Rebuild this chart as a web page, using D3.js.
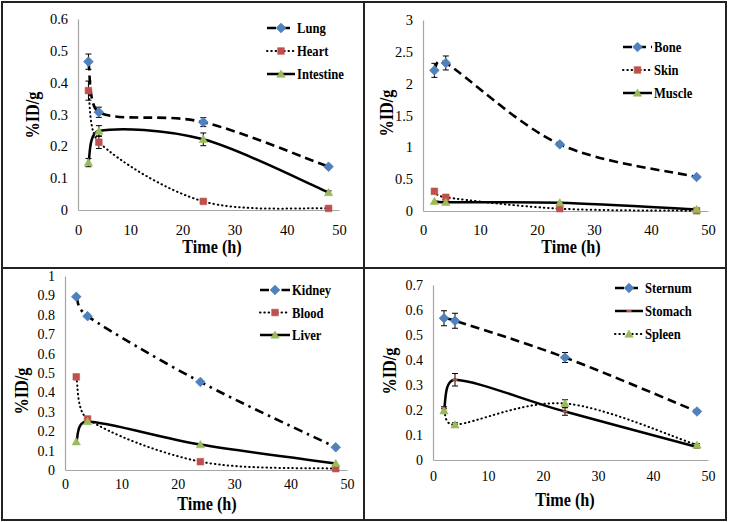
<!DOCTYPE html>
<html><head><meta charset="utf-8">
<script src="https://cdn.jsdelivr.net/npm/d3@7"></script>
<style>body{margin:0;background:#fff}svg{display:block}svg text{font-family:'Liberation Serif','Times New Roman',serif}</style>
</head><body>
<svg id="chart" width="730" height="522"></svg>
<script>
// ---------- DATA ----------
const times = [2, 4, 24, 48];
const xTickValues = [0, 10, 20, 30, 40, 50];

// Panel A
const lung = [0.466, 0.307, 0.276, 0.136];
const lungErr = [0.024, 0.016, 0.014, 0.005];
const heart = [0.375, 0.213, 0.027, 0.005];
const heartErr = [0.03, 0.02, 0.004, 0.002];
const intestine = [0.149, 0.248, 0.222, 0.055];
const intestineErr = [0.013, 0.017, 0.02, 0.005];
const yTicksA = [0, 0.1, 0.2, 0.3, 0.4, 0.5, 0.6];

// Panel B
const bone = [2.209, 2.325, 1.047, 0.534];
const boneErr = [0.11, 0.11, 0.03, 0.02];
const skin = [0.309, 0.215, 0.037, 0.004];
const skinErr = [0, 0, 0, 0];
const muscle = [0.152, 0.136, 0.131, 0.026];
const muscleErr = [0, 0, 0, 0];
const yTicksB = [0, 0.5, 1, 1.5, 2, 2.5, 3];

// Panel C
const kidney = [0.893, 0.793, 0.454, 0.117];
const kidneyErr = [0, 0, 0, 0];
const blood = [0.48, 0.263, 0.043, 0.007];
const bloodErr = [0, 0, 0, 0];
const liver = [0.146, 0.25, 0.131, 0.034];
const liverErr = [0, 0, 0, 0];
const yTicksC = [0, 0.1, 0.2, 0.3, 0.4, 0.5, 0.6, 0.7, 0.8, 0.9, 1];

// Panel D
const sternum = [0.567, 0.557, 0.41, 0.194];
const sternumErr = [0.03, 0.03, 0.02, 0.008];
const stomach = [0.203, 0.321, 0.194, 0.052];
const stomachErr = [0.01, 0.025, 0.015, 0.004];
const spleen = [0.197, 0.141, 0.226, 0.06];
const spleenErr = [0.01, 0.008, 0.015, 0.005];
const yTicksD = [0, 0.1, 0.2, 0.3, 0.4, 0.5, 0.6, 0.7];

const xTitle = "Time (h)";
const yTitle = "%ID/g";

// ---------- STYLE ----------
const BLUE = "#4F81BD", RED = "#C0504D", GREEN = "#9BBB59";
const FONT = "'Liberation Serif','Times New Roman',serif";
const dashStyles = {
  dash: {w: 2.6, d: "9,5", cap: "butt"},
  dot: {w: 2, d: "0.5,3.8", cap: "round"},
  solid: {w: 2.5, d: null, cap: "butt"},
  dashdot: {w: 2.6, d: "9,5,2.5,5", cap: "butt"}
};

const panels = [
  {x0: 78, x1: 339, yTop: 19, yBot: 210, yMax: 0.6, yTicks: yTicksA, xPad: 15, tickFont: 14.5,
   yTitlePos: [33, 115], xTitlePos: [212, 253], legend: {x0: 267, x1: 295, y0: 28, step: 23},
   series: [
     {name: "Lung", v: lung, e: lungErr, line: "dash", marker: "diamond", color: BLUE},
     {name: "Heart", v: heart, e: heartErr, line: "dot", marker: "square", color: RED},
     {name: "Intestine", v: intestine, e: intestineErr, line: "solid", marker: "triangle", color: GREEN}
   ]},
  {x0: 423, x1: 708, yTop: 20, yBot: 211, yMax: 3, yTicks: yTicksB, xPad: 14, tickFont: 14.5,
   yTitlePos: [387, 113], xTitlePos: [571, 253], legend: {x0: 623, x1: 652, y0: 47, step: 23},
   series: [
     {name: "Bone", v: bone, e: boneErr, line: "dash", marker: "diamond", color: BLUE},
     {name: "Skin", v: skin, e: skinErr, line: "dot", marker: "square", color: RED},
     {name: "Muscle", v: muscle, e: muscleErr, line: "solid", marker: "triangle", color: GREEN}
   ]},
  {x0: 65, x1: 347, yTop: 276, yBot: 470, yMax: 1, yTicks: yTicksC, xPad: 9, tickFont: 14,
   yTitlePos: [22, 391], xTitlePos: [207, 510], legend: {x0: 260, x1: 290, y0: 290, step: 22.5},
   series: [
     {name: "Kidney", v: kidney, e: kidneyErr, line: "dashdot", marker: "diamond", color: BLUE},
     {name: "Blood", v: blood, e: bloodErr, line: "dot", marker: "square", color: RED},
     {name: "Liver", v: liver, e: liverErr, line: "solid", marker: "triangle", color: GREEN}
   ]},
  {x0: 433, x1: 708, yTop: 285, yBot: 460, yMax: 0.7, yTicks: yTicksD, xPad: 11, tickFont: 14,
   yTitlePos: [390, 371], xTitlePos: [565, 506], legend: {x0: 615, x1: 643, y0: 288, step: 23},
   series: [
     {name: "Sternum", v: sternum, e: sternumErr, line: "dash", marker: "diamond", color: BLUE},
     {name: "Stomach", v: stomach, e: stomachErr, line: "solid", marker: "dash", color: RED},
     {name: "Spleen", v: spleen, e: spleenErr, line: "dot", marker: "triangle", color: GREEN}
   ]}
];

const svg = d3.select("#chart");

// Excel-like smoothed line: Catmull-Rom (1/6) tangents, clamped so control points stay inside each segment's x-range
function smoothPath(pts) {
  const p = d3.path();
  const n = pts.length;
  p.moveTo(pts[0][0], pts[0][1]);
  const tan = i => {
    const a = pts[Math.max(0, i - 1)], b = pts[Math.min(n - 1, i + 1)];
    return [(b[0] - a[0]) / 6, (b[1] - a[1]) / 6];
  };
  for (let i = 0; i < n - 1; i++) {
    const P1 = pts[i], P2 = pts[i + 1], dx = P2[0] - P1[0];
    let t1 = tan(i), t2 = tan(i + 1);
    const s1 = Math.abs(t1[0]) > dx ? dx / Math.abs(t1[0]) : 1;
    const s2 = Math.abs(t2[0]) > dx ? dx / Math.abs(t2[0]) : 1;
    p.bezierCurveTo(P1[0] + t1[0] * s1, P1[1] + t1[1] * s1,
                    P2[0] - t2[0] * s2, P2[1] - t2[1] * s2, P2[0], P2[1]);
  }
  return p.toString();
}

function styleLine(sel, kind) {
  const s = dashStyles[kind];
  sel.attr("fill", "none").attr("stroke", "#000").attr("stroke-width", s.w)
     .attr("stroke-linecap", s.cap);
  if (s.d) sel.attr("stroke-dasharray", s.d);
}

function drawMarker(g, kind, color, x, y) {
  if (kind === "diamond") {
    g.append("path").attr("d", d3.symbol(d3.symbolSquare, 46)())
      .attr("transform", `translate(${x},${y}) rotate(45)`)
      .attr("fill", color).attr("stroke", color).attr("stroke-width", 0.8);
  } else if (kind === "square") {
    g.append("path").attr("d", d3.symbol(d3.symbolSquare, 44)())
      .attr("transform", `translate(${x},${y})`)
      .attr("fill", color).attr("stroke", color).attr("stroke-width", 0.6);
  } else if (kind === "triangle") {
    g.append("path").attr("d", d3.symbol(d3.symbolTriangle, 30)())
      .attr("transform", `translate(${x},${y + 0.8})`)
      .attr("fill", color).attr("stroke", color).attr("stroke-width", 0.6);
  } else if (kind === "dash") {
    g.append("line").attr("x1", x - 2.5).attr("x2", x + 2.5).attr("y1", y).attr("y2", y)
      .attr("stroke", color).attr("stroke-width", 2);
  }
}

function boldText(g, x, y, str, size, rot) {
  g.append("text")
    .attr("transform", `translate(${x},${y}) rotate(${rot || 0}) scale(0.9,1)`)
    .attr("font-family", FONT).attr("font-weight", "bold").attr("font-size", size)
    .attr("fill", "#000").text(str);
}

panels.forEach(p => {
  const g = svg.append("g");
  const x = d3.scaleLinear().domain([0, 50]).range([p.x0, p.x1]);
  const y = d3.scaleLinear().domain([0, p.yMax]).range([p.yBot, p.yTop]);

  const fmt = d => String(+d.toFixed(2));
  const yAx = g.append("g").attr("transform", `translate(${p.x0},0)`)
    .call(d3.axisLeft(y).tickValues(p.yTicks).tickFormat(fmt).tickSize(0).tickPadding(10));
  const xAx = g.append("g").attr("transform", `translate(0,${p.yBot})`)
    .call(d3.axisBottom(x).tickValues(xTickValues).tickFormat(fmt).tickSize(0).tickPadding(p.xPad));
  [yAx, xAx].forEach(a => {
    a.attr("font-family", FONT).attr("font-size", p.tickFont);
    a.select(".domain").attr("stroke", "#a6a6a6").attr("stroke-width", 1.2);
    a.selectAll("text").attr("font-family", FONT).attr("font-size", p.tickFont).attr("fill", "#000");
  });

  // lines
  p.series.forEach(s => {
    const pts = times.map((t, i) => [x(t), y(s.v[i])]);
    const path = g.append("path").attr("d", smoothPath(pts));
    styleLine(path, s.line);
  });
  // error bars
  p.series.forEach(s => {
    times.forEach((t, i) => {
      if (!s.e[i]) return;
      const cx = x(t), ya = y(s.v[i] + s.e[i]), yb = y(s.v[i] - s.e[i]);
      g.append("line").attr("x1", cx).attr("x2", cx).attr("y1", ya).attr("y2", yb)
        .attr("stroke", "#000").attr("stroke-width", 1);
      [ya, yb].forEach(yy => g.append("line").attr("x1", cx - 3).attr("x2", cx + 3)
        .attr("y1", yy).attr("y2", yy).attr("stroke", "#000").attr("stroke-width", 1));
    });
  });
  // markers
  p.series.forEach(s => {
    times.forEach((t, i) => drawMarker(g, s.marker, s.color, x(t), y(s.v[i])));
  });

  // legend
  p.series.forEach((s, i) => {
    const ly = p.legend.y0 + i * p.legend.step;
    const ln = g.append("line").attr("x1", p.legend.x0).attr("x2", p.legend.x1)
      .attr("y1", ly).attr("y2", ly);
    styleLine(ln, s.line);
    drawMarker(g, s.marker, s.color, (p.legend.x0 + p.legend.x1) / 2, ly);
    boldText(g, p.legend.x1 + 2, ly + 5, s.name, 14, 0);
  });

  // titles
  g.append("text")
    .attr("transform", `translate(${p.xTitlePos[0]},${p.xTitlePos[1]}) scale(0.9,1)`)
    .attr("text-anchor", "middle").attr("font-family", FONT).attr("font-weight", "bold")
    .attr("font-size", 18).text(xTitle);
  g.append("text")
    .attr("transform", `translate(${p.yTitlePos[0]},${p.yTitlePos[1]}) rotate(-90) scale(0.9,1)`)
    .attr("text-anchor", "middle").attr("dy", "0.35em").attr("font-family", FONT)
    .attr("font-weight", "bold").attr("font-size", 18).text(yTitle);
});

// frame and dividers
svg.append("rect").attr("x", 2).attr("y", 2).attr("width", 724).attr("height", 518)
  .attr("fill", "none").attr("stroke", "#222").attr("stroke-width", 2);
svg.append("line").attr("x1", 364).attr("x2", 364).attr("y1", 2).attr("y2", 520)
  .attr("stroke", "#222").attr("stroke-width", 2);
svg.append("line").attr("x1", 2).attr("x2", 726).attr("y1", 268).attr("y2", 268)
  .attr("stroke", "#222").attr("stroke-width", 2);
</script>
</body></html>
